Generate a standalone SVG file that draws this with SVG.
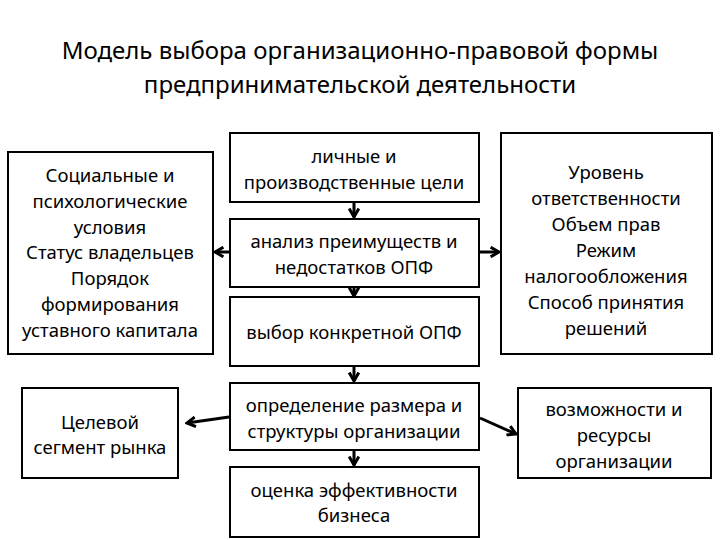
<svg xmlns="http://www.w3.org/2000/svg" width="720" height="540" viewBox="0 0 720 540">
<defs>
<style>
.b{fill:#fff;stroke:#000;stroke-width:2}
text{font-family:"Noto Sans","Open Sans",sans-serif;font-size:18.5px;fill:#000;text-anchor:middle}
.t{font-size:24px}
.c{stroke:#000;stroke-width:3;fill:none}
</style>
<marker id="a" viewBox="0 0 10 10" refX="8" refY="5" markerWidth="4" markerHeight="4" orient="auto"><path d="M1,1 L8,5 L1,9" fill="none" stroke="#000" stroke-width="2.5"/></marker>
</defs>
<rect width="720" height="540" fill="#fff"/>
<text class="t" x="360" y="59">Модель выбора организационно-правовой формы</text>
<text class="t" x="360" y="93">предпринимательской деятельности</text>
<g id="n1"><rect class="b" x="230" y="133" width="249" height="69"/><text x="354" y="163">личные и</text><text x="354" y="189">производственные цели</text></g>
<g id="n2"><rect class="b" x="230" y="219" width="249" height="68"/><text x="354" y="248">анализ преимуществ и</text><text x="354" y="274">недостатков ОПФ</text></g>
<g id="n3"><rect class="b" x="230" y="297" width="249" height="69"/><text x="354" y="339">выбор конкретной ОПФ</text></g>
<g id="n4"><rect class="b" x="230" y="383" width="249" height="67"/><text x="354" y="412">определение размера и</text><text x="354" y="438">структуры организации</text></g>
<g id="n5"><rect class="b" x="230" y="467" width="249" height="70"/><text x="354" y="497">оценка эффективности</text><text x="354" y="522">бизнеса</text></g>
<g id="l1"><rect class="b" x="8" y="152" width="205" height="202"/>
<text x="110" y="182">Социальные и</text><text x="110" y="208">психологические</text><text x="110" y="234">условия</text><text x="110" y="259">Статус владельцев</text><text x="110" y="285">Порядок</text><text x="110" y="311">формирования</text><text x="110" y="337">уставного капитала</text></g>
<g id="r1"><rect class="b" x="501" y="133" width="211" height="221"/>
<text x="606" y="179">Уровень</text><text x="606" y="205">ответственности</text><text x="606" y="231">Объем прав</text><text x="606" y="257">Режим</text><text x="606" y="283">налогообложения</text><text x="606" y="309">Способ принятия</text><text x="606" y="335">решений</text></g>
<g id="l2"><rect class="b" x="22" y="388" width="156" height="90"/><text x="100" y="429">Целевой</text><text x="100" y="454">сегмент рынка</text></g>
<g id="r2"><rect class="b" x="518" y="388" width="193" height="90"/><text x="614" y="416">возможности и</text><text x="614" y="442">ресурсы</text><text x="614" y="468">организации</text></g>
<g id="connectors">
<line class="c" x1="354" y1="203" x2="354" y2="217" marker-end="url(#a)"/>
<line class="c" x1="354" y1="288" x2="354" y2="296" marker-end="url(#a)"/>
<line class="c" x1="354" y1="367" x2="354" y2="381" marker-end="url(#a)"/>
<line class="c" x1="354" y1="451" x2="354" y2="465" marker-end="url(#a)"/>
<line class="c" x1="229" y1="252" x2="215" y2="252" marker-end="url(#a)"/>
<line class="c" x1="480" y1="252" x2="499" y2="252" marker-end="url(#a)"/>
<line class="c" x1="229" y1="417" x2="187" y2="423" marker-end="url(#a)"/>
<line class="c" x1="480" y1="418" x2="516" y2="434" marker-end="url(#a)"/>
</g>
</svg>
